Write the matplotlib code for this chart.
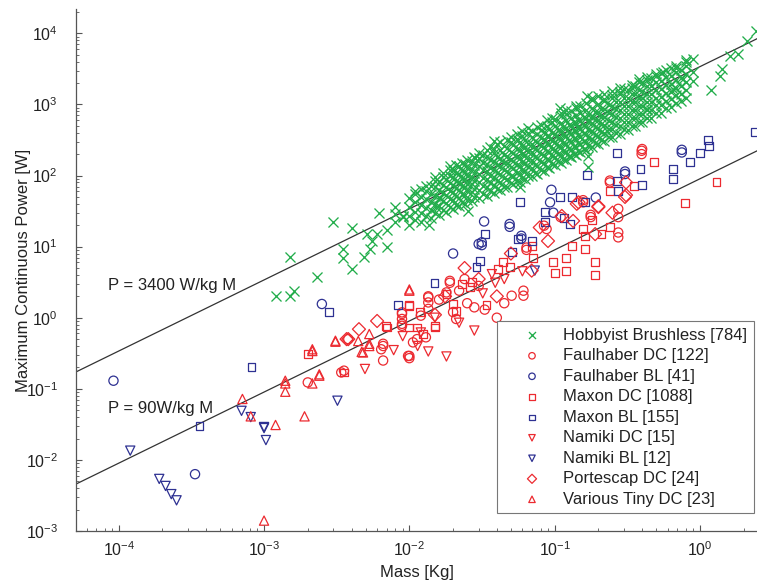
import numpy as np
import matplotlib
matplotlib.use("Agg")
from matplotlib import pyplot as plt

plt.rcParams['font.family'] = ['Liberation Sans', 'DejaVu Sans']
plt.rcParams['mathtext.default'] = 'regular'
plt.rcParams['axes.unicode_minus'] = False

GREEN = '#22ad4b'
RED = '#ec2a30'
BLUE = '#2e3192'

# Hobbyist brushless motors, scattered ones first, then the dense band (mass [kg], power [W])
hobby_mass = [
    1.2e-3, 1.5e-3, 1.6e-3, 1.5e-3, 2.3e-3, 3.0e-3, 4.0e-3, 3.5e-3, 3.5e-3, 4.0e-3,
    4.9e-3, 5.4e-3, 5.5e-3, 5.1e-3, 6.0e-3, 6.2e-3, 7.0e-3, 7.0e-3, 8.0e-3, 8.0e-3,
    8.0e-3, 9.1e-3, 9.0e-3, 0.0137, 0.0153, 0.0163, 0.0255, 0.0283, 0.038, 0.058,
    0.127, 0.17, 0.17, 0.166, 0.109, 0.23, 0.43, 0.56, 0.655, 0.77,
    0.9, 0.9, 0.9, 1.2, 1.37, 1.41, 1.6, 1.84, 2.1, 2.45,
    0.010, 0.010, 0.010, 0.010,
    0.011, 0.011, 0.011, 0.011,
    0.012, 0.012, 0.012, 0.012, 0.012,
    0.013, 0.013, 0.013, 0.013,
    0.014, 0.014, 0.014, 0.014, 0.014,
    0.015, 0.015, 0.015, 0.015, 0.015,
    0.016, 0.016, 0.016, 0.016, 0.016,
    0.017, 0.017, 0.017, 0.017, 0.017,
    0.018, 0.018, 0.018, 0.018, 0.018,
    0.019, 0.019, 0.019, 0.019, 0.019,
    0.020, 0.020, 0.020, 0.020, 0.020, 0.020,
    0.021, 0.021, 0.021, 0.021, 0.021,
    0.022, 0.022, 0.022, 0.022, 0.022, 0.022,
    0.023, 0.023, 0.023, 0.023, 0.023,
    0.024, 0.024, 0.024, 0.024, 0.024, 0.024,
    0.025, 0.025, 0.025, 0.025, 0.025,
    0.027, 0.027, 0.027, 0.027, 0.027, 0.027,
    0.028, 0.028, 0.028, 0.028, 0.028,
    0.030, 0.030, 0.030, 0.030, 0.030, 0.030,
    0.032, 0.032, 0.032, 0.032, 0.032,
    0.034, 0.034, 0.034, 0.034, 0.034, 0.034,
    0.036, 0.036, 0.036, 0.036, 0.036,
    0.038, 0.038, 0.038, 0.038, 0.038, 0.038,
    0.040, 0.040, 0.040, 0.040, 0.040,
    0.042, 0.042, 0.042, 0.042, 0.042, 0.042,
    0.045, 0.045, 0.045, 0.045, 0.045,
    0.047, 0.047, 0.047, 0.047, 0.047, 0.047,
    0.050, 0.050, 0.050, 0.050, 0.050,
    0.052, 0.052, 0.052, 0.052, 0.052, 0.052,
    0.055, 0.055, 0.055, 0.055, 0.055,
    0.058, 0.058, 0.058, 0.058, 0.058, 0.058,
    0.060, 0.060, 0.060, 0.060, 0.060,
    0.063, 0.063, 0.063, 0.063, 0.063, 0.063,
    0.066, 0.066, 0.066, 0.066, 0.066,
    0.070, 0.070, 0.070, 0.070, 0.070, 0.070,
    0.073, 0.073, 0.073, 0.073, 0.073,
    0.076, 0.076, 0.076, 0.076, 0.076, 0.076,
    0.080, 0.080, 0.080, 0.080, 0.080,
    0.084, 0.084, 0.084, 0.084, 0.084, 0.084,
    0.088, 0.088, 0.088, 0.088, 0.088,
    0.092, 0.092, 0.092, 0.092, 0.092, 0.092,
    0.096, 0.096, 0.096, 0.096, 0.096,
    0.100, 0.100, 0.100, 0.100, 0.100, 0.100,
    0.105, 0.105, 0.105, 0.105, 0.105,
    0.110, 0.110, 0.110, 0.110, 0.110, 0.110,
    0.115, 0.115, 0.115, 0.115, 0.115,
    0.120, 0.120, 0.120, 0.120, 0.120, 0.120,
    0.125, 0.125, 0.125, 0.125, 0.125,
    0.130, 0.130, 0.130, 0.130, 0.130, 0.130,
    0.135, 0.135, 0.135, 0.135, 0.135,
    0.140, 0.140, 0.140, 0.140, 0.140, 0.140,
    0.145, 0.145, 0.145, 0.145, 0.145,
    0.150, 0.150, 0.150, 0.150, 0.150, 0.150,
    0.160, 0.160, 0.160, 0.160, 0.160,
    0.165, 0.165, 0.165, 0.165, 0.165, 0.165,
    0.170, 0.170, 0.170, 0.170, 0.170,
    0.180, 0.180, 0.180, 0.180, 0.180, 0.180,
    0.190, 0.190, 0.190, 0.190, 0.190,
    0.200, 0.200, 0.200, 0.200, 0.200, 0.200,
    0.210, 0.210, 0.210, 0.210, 0.210,
    0.220, 0.220, 0.220, 0.220, 0.220, 0.220,
    0.235, 0.235, 0.235, 0.235, 0.235,
    0.250, 0.250, 0.250, 0.250, 0.250, 0.250,
    0.265, 0.265, 0.265, 0.265, 0.265,
    0.280, 0.280, 0.280, 0.280, 0.280, 0.280,
    0.300, 0.300, 0.300, 0.300, 0.300,
    0.320, 0.320, 0.320, 0.320, 0.320, 0.320,
    0.340, 0.340, 0.340, 0.340, 0.340,
    0.360, 0.360, 0.360, 0.360, 0.360, 0.360,
    0.380, 0.380, 0.380, 0.380, 0.380,
    0.400, 0.400, 0.400, 0.400, 0.400, 0.400,
    0.430, 0.430, 0.430, 0.430, 0.430,
    0.460, 0.460, 0.460, 0.460, 0.460, 0.460,
    0.500, 0.500, 0.500, 0.500, 0.500,
    0.540, 0.540, 0.540, 0.540, 0.540, 0.540,
    0.580, 0.580, 0.580, 0.580, 0.580,
    0.630, 0.630, 0.630, 0.630, 0.630, 0.630,
    0.680, 0.680, 0.680, 0.680, 0.680,
    0.740, 0.740, 0.740, 0.740, 0.740,
    0.800, 0.800, 0.800, 0.800, 0.800,
    # upper side of the band
    0.011, 0.013, 0.015, 0.017, 0.019, 0.019, 0.021, 0.023, 0.025, 0.028,
    0.030, 0.032, 0.034, 0.036, 0.038, 0.040, 0.042, 0.045, 0.047, 0.050,
    0.050, 0.055, 0.055, 0.060, 0.060, 0.066, 0.066, 0.070, 0.076, 0.080,
    0.080, 0.088, 0.088, 0.096, 0.096, 0.100, 0.110, 0.110, 0.120, 0.120,
    0.130, 0.140, 0.140, 0.150, 0.165, 0.180, 0.180, 0.200, 0.220, 0.220,
    0.250, 0.250, 0.280, 0.280, 0.300, 0.340, 0.340, 0.380, 0.380, 0.430,
    0.430, 0.500, 0.500, 0.580, 0.680, 0.680, 0.800, 0.800,
]
hobby_power = [
    2.0, 2.0, 2.4, 7.2, 3.7, 22, 18, 9.3, 6.9, 4.8,
    7.2, 9.3, 12, 15, 15, 30, 17, 10, 36, 29,
    22, 26, 27, 20, 36, 49, 32, 174, 310, 70,
    190, 190, 130, 1320, 900, 427, 860, 2820, 1650, 2280,
    4350, 2820, 2150, 1600, 2530, 3180, 4840, 5200, 7700, 10900,
    20, 27, 36, 48,
    24, 31, 42, 55,
    22, 30, 38, 50, 64,
    27, 35, 47, 60,
    25, 33, 42, 55, 72,
    30, 40, 52, 68, 85,
    28, 37, 48, 62, 80,
    33, 44, 56, 73, 95,
    31, 41, 53, 68, 88,
    36, 47, 61, 78, 100,
    34, 45, 58, 74, 96, 120,
    39, 51, 66, 85, 110,
    37, 49, 63, 81, 105, 135,
    42, 55, 71, 92, 118,
    40, 53, 68, 88, 113, 145,
    46, 60, 77, 100, 128,
    44, 58, 75, 96, 124, 160,
    50, 65, 84, 108, 140,
    48, 63, 81, 104, 135, 175,
    55, 72, 92, 118, 152,
    52, 68, 88, 114, 146, 190,
    60, 78, 100, 128, 165,
    57, 74, 96, 124, 160, 205,
    65, 84, 108, 140, 180,
    62, 80, 104, 135, 175, 225,
    70, 92, 118, 152, 196,
    68, 88, 114, 148, 190, 245,
    78, 100, 130, 168, 215,
    75, 97, 126, 162, 210, 270,
    85, 110, 142, 184, 236,
    82, 106, 138, 178, 230, 295,
    92, 120, 155, 200, 258,
    90, 116, 150, 194, 250, 320,
    100, 130, 168, 216, 280,
    98, 126, 164, 212, 274, 350,
    110, 142, 184, 238, 305,
    106, 138, 178, 230, 296, 380,
    120, 155, 200, 258, 332,
    115, 150, 194, 250, 322, 415,
    132, 170, 220, 284, 365,
    128, 165, 212, 275, 355, 455,
    145, 186, 240, 310, 400,
    140, 180, 232, 300, 388, 500,
    158, 204, 264, 340, 440,
    152, 196, 254, 328, 424, 545,
    172, 222, 286, 370, 478,
    166, 214, 276, 356, 460, 595,
    188, 242, 312, 404, 520,
    180, 232, 300, 388, 500, 645,
    204, 262, 338, 436, 565,
    196, 252, 326, 420, 542, 700,
    220, 284, 366, 472, 610,
    212, 274, 354, 456, 588, 760,
    240, 310, 400, 516, 666,
    232, 300, 386, 498, 642, 830,
    260, 336, 432, 558, 720,
    252, 325, 420, 540, 698, 900,
    285, 368, 475, 612, 790,
    280, 360, 465, 600, 775, 1000,
    315, 405, 525, 675, 870,
    310, 400, 515, 665, 860, 1100,
    350, 452, 582, 750, 970,
    345, 445, 575, 742, 958, 1230,
    395, 510, 658, 850, 1095,
    390, 505, 650, 840, 1085, 1400,
    445, 575, 742, 958, 1235,
    440, 570, 735, 950, 1225, 1580,
    505, 652, 842, 1085, 1400,
    500, 645, 835, 1075, 1390, 1790,
    570, 735, 950, 1225, 1580,
    565, 730, 940, 1215, 1570, 2020,
    645, 832, 1075, 1385, 1790,
    650, 840, 1085, 1400, 1810, 2330,
    750, 968, 1250, 1612, 2080,
    765, 988, 1275, 1645, 2125, 2740,
    880, 1135, 1465, 1890, 2440,
    910, 1175, 1515, 1955, 2525, 3260,
    1040, 1340, 1730, 2235, 2880,
    1100, 1420, 1835, 2370, 3060,
    1250, 1610, 2080, 2690, 3470,
    60, 72, 95, 110, 120, 135, 140, 150, 165, 180,
    210, 195, 230, 250, 240, 280, 300, 260, 320, 300,
    350, 330, 380, 360, 420, 400, 460, 420, 480, 440,
    520, 500, 600, 560, 650, 620, 680, 760, 740, 840,
    820, 880, 960, 950, 1050, 1150, 1250, 1300, 1400, 1200,
    1550, 1350, 1700, 1500, 1650, 1900, 1700, 2100, 2300, 2400,
    2200, 2700, 2500, 3100, 3500, 3300, 4200, 3900,
]

faul_dc_mass = [2.0e-3, 3.55e-3, 3.4e-3, 3.8e-3, 6.6e-3, 6.6e-3, 6.4e-3, 6.6e-3, 0.0089, 0.0089,
                0.0089, 0.0089, 0.0089, 0.010, 0.010, 0.0098, 0.0106, 0.0113, 0.013, 0.0135,
                0.0135, 0.0135, 0.0135, 0.012, 0.019, 0.019, 0.018, 0.021, 0.0506, 0.061,
                0.061, 0.064, 0.064, 0.0845, 0.088, 0.11, 0.157, 0.157, 0.177, 0.177,
                0.24, 0.24, 0.274, 0.274, 0.274, 0.274, 0.397, 0.397, 0.40, 0.016,
                0.022, 0.025, 0.028, 0.030, 0.033, 0.020, 0.024, 0.040, 0.045]
faul_dc_power = [0.123, 0.18, 0.17, 0.5, 0.40, 0.25, 0.36, 0.43, 0.82, 1.13,
                 0.96, 0.77, 1.19, 0.29, 0.27, 0.29, 0.45, 0.5, 0.53, 2.0,
                 1.93, 1.64, 1.33, 1.07, 3.1, 3.3, 2.27, 0.96, 2.04, 2.04,
                 2.4, 9.7, 9.0, 19.7, 17.7, 26, 45, 42, 28, 26,
                 85, 80, 34, 26, 15.8, 13.5, 223, 200, 236, 1.8,
                 2.4, 1.6, 1.4, 2.8, 1.3, 1.2, 3.5, 1.0, 1.6]

faul_bl_mass = [9.2e-5, 3.35e-4, 2.5e-3, 0.020, 0.030, 0.0327, 0.0315, 0.0315, 0.049, 0.049,
                0.059, 0.059, 0.095, 0.098, 0.093, 0.192, 0.305, 0.305, 0.75, 0.75]
faul_bl_power = [0.13, 0.0063, 1.56, 8.0, 10.9, 22.6, 11.5, 10.5, 20.8, 19,
                 14.2, 13, 63, 30, 42, 49, 114, 105, 211, 230]

maxon_dc_mass = [2.0e-3, 3.55e-3, 6.9e-3, 7.0e-3, 0.010, 0.010, 0.010, 0.0113, 0.0119, 0.0125,
                 0.015, 0.015, 0.018, 0.020, 0.021, 0.023, 0.026, 0.027, 0.034, 0.041,
                 0.044, 0.049, 0.0695, 0.071, 0.098, 0.100, 0.119, 0.120, 0.131, 0.157,
                 0.162, 0.162, 0.18, 0.19, 0.19, 0.21, 0.24, 0.24, 0.35, 0.48,
                 1.3, 0.79]
maxon_dc_power = [0.31, 0.17, 0.77, 0.73, 1.47, 1.52, 0.73, 0.73, 1.19, 0.59,
                  0.77, 0.73, 2.15, 1.56, 1.25, 3.0, 2.67, 3.14, 1.5, 4.8,
                  6.0, 5.1, 10.3, 6.9, 6.0, 4.2, 7.0, 4.6, 10.3, 17.7,
                  14, 9.2, 24, 6.0, 4.0, 15, 19, 61, 72, 153,
                  82, 41]

maxon_bl_mass = [8.2e-4, 3.6e-4, 2.8e-3, 8.4e-3, 0.0149, 0.029, 0.0306, 0.033, 0.051, 0.056,
                 0.058, 0.0695, 0.086, 0.086, 0.109, 0.116, 0.127, 0.131, 0.162, 0.166,
                 0.267, 0.267, 0.274, 0.39, 0.40, 0.655, 0.655, 0.85, 1.0, 1.14,
                 1.16, 2.39]
maxon_bl_power = [0.2, 0.030, 1.19, 1.52, 3.1, 5.1, 6.3, 15, 8.3, 12.8,
                  42, 12.1, 31, 22, 50, 25.6, 20.8, 50, 42, 103,
                  205, 83, 61, 124, 74, 124, 89, 153, 207, 316,
                  257, 413]

namiki_dc_mass = [4.95e-3, 7.8e-3, 0.0135, 0.018, 0.028, 0.0114, 0.037, 0.039, 0.015, 0.022,
                  0.032, 0.045, 0.012, 0.009, 0.060]
namiki_dc_power = [0.19, 0.35, 0.335, 0.285, 0.66, 0.40, 4.1, 3.1, 1.0, 0.85,
                   2.2, 3.5, 0.62, 0.55, 4.5]

namiki_bl_mass = [1.2e-4, 1.9e-4, 2.1e-4, 2.3e-4, 2.5e-4, 7.0e-4, 8.1e-4, 1.0e-3, 1.0e-3, 1.03e-3,
                  3.2e-3, 0.073]
namiki_bl_power = [0.0135, 0.0054, 0.0043, 0.0033, 0.0027, 0.049, 0.040, 0.029, 0.028, 0.019,
                   0.068, 4.6]

porte_dc_mass = [3.8e-3, 3.7e-3, 4.5e-3, 0.024, 0.079, 0.112, 0.134, 0.142, 0.19, 0.20,
                 0.305, 0.31, 0.0176, 0.146, 0.31, 0.0695, 0.006, 0.015, 0.030, 0.050,
                 0.040, 0.090, 0.25, 0.20]
porte_dc_power = [0.5, 0.5, 0.69, 5.0, 18.6, 27, 23, 40, 15, 36,
                  50, 80, 2.0, 42, 53, 4.6, 0.9, 1.1, 3.5, 8,
                  2.0, 12, 30, 37]

tiny_dc_mass = [7.1e-4, 8.1e-4, 1.0e-3, 1.2e-3, 1.4e-3, 1.4e-3, 1.9e-3, 2.15e-3, 2.15e-3, 2.4e-3,
                3.1e-3, 4.8e-3, 5.3e-3, 5.3e-3, 0.010, 4.45e-3, 4.7e-3, 5.3e-3, 2.15e-3, 1.4e-3,
                2.4e-3, 3.1e-3, 0.010]
tiny_dc_power = [0.072, 0.041, 0.0014, 0.031, 0.119, 0.091, 0.041, 0.34, 0.119, 0.153,
                 0.475, 0.325, 0.43, 0.59, 2.5, 0.47, 0.33, 0.40, 0.36, 0.13,
                 0.16, 0.46, 2.4]

x_ticks = [1e-4, 1e-3, 1e-2, 1e-1, 1e0]
y_ticks = [1e-3, 1e-2, 1e-1, 1e0, 1e1, 1e2, 1e3, 1e4]

fig = plt.figure(figsize=(7.57, 5.82), dpi=100)
ax = fig.add_axes([76/757, 51/582, 681/757, 522/582])

ms = 44
lw = 0.9
ax.scatter(hobby_mass, hobby_power, s=52, marker='x', color=GREEN, linewidths=0.95,
           label='Hobbyist Brushless [784]')
ax.scatter(faul_dc_mass, faul_dc_power, s=ms, marker='o', facecolors='none', edgecolors=RED,
           linewidths=lw, label='Faulhaber DC [122]')
ax.scatter(faul_bl_mass, faul_bl_power, s=ms, marker='o', facecolors='none', edgecolors=BLUE,
           linewidths=lw, label='Faulhaber BL [41]')
ax.scatter(maxon_dc_mass, maxon_dc_power, s=32, marker='s', facecolors='none', edgecolors=RED,
           linewidths=lw, label='Maxon DC [1088]')
ax.scatter(maxon_bl_mass, maxon_bl_power, s=32, marker='s', facecolors='none', edgecolors=BLUE,
           linewidths=lw, label='Maxon BL [155]')
ax.scatter(namiki_dc_mass, namiki_dc_power, s=ms, marker='v', facecolors='none', edgecolors=RED,
           linewidths=lw, label='Namiki DC [15]')
ax.scatter(namiki_bl_mass, namiki_bl_power, s=ms, marker='v', facecolors='none', edgecolors=BLUE,
           linewidths=lw, label='Namiki BL [12]')
ax.scatter(porte_dc_mass, porte_dc_power, s=ms, marker='D', facecolors='none', edgecolors=RED,
           linewidths=lw, label='Portescap DC [24]')
ax.scatter(tiny_dc_mass, tiny_dc_power, s=ms, marker='^', facecolors='none', edgecolors=RED,
           linewidths=lw, label='Various Tiny DC [23]')

ax.set_xscale('log')
ax.set_yscale('log')
xmin, xmax = 5.08e-5, 2.47
ax.set_xlim(xmin, xmax)
ax.set_ylim(1e-3, 2.2e4)

# specific power reference lines
m_line = np.array([xmin, xmax])
ax.plot(m_line, 3400*m_line, color='#333333', lw=0.9, zorder=0)
ax.plot(m_line, 90*m_line, color='#333333', lw=0.9, zorder=0)
ax.text(8.45e-5, 2.8, 'P = 3400 W/kg M', fontsize=12, color='#222222', va='center')
ax.text(8.45e-5, 0.0525, 'P = 90W/kg M', fontsize=12, color='#222222', va='center')

for side in ['top', 'right']:
    ax.spines[side].set_visible(False)
for side in ['left', 'bottom']:
    ax.spines[side].set_color('#555555')
    ax.spines[side].set_linewidth(0.9)
ax.set_xticks(x_ticks)
ax.set_yticks(y_ticks)
ax.tick_params(which='both', direction='in', colors='#555555', labelcolor='#222222', labelsize=11.5)
ax.tick_params(which='major', length=4)
ax.tick_params(which='minor', length=2.5)
ax.tick_params(axis='y', which='both', pad=13)
ax.tick_params(axis='x', which='both', pad=7)
ax.xaxis.set_minor_locator(matplotlib.ticker.LogLocator(base=10, subs=np.arange(2, 10), numticks=20))
ax.yaxis.set_minor_locator(matplotlib.ticker.LogLocator(base=10, subs=np.arange(2, 10), numticks=20))
ax.xaxis.set_minor_formatter(matplotlib.ticker.NullFormatter())
ax.yaxis.set_minor_formatter(matplotlib.ticker.NullFormatter())

ax.set_xlabel('Mass [Kg]', fontsize=12, color='#222222', labelpad=4)
ax.set_ylabel('Maximum Continuous Power [W]', fontsize=12, color='#222222', labelpad=-3.5)

leg = ax.legend(loc='upper left', bbox_to_anchor=(497/757, 1 - 321/582), bbox_transform=fig.transFigure,
                fontsize=12, frameon=True, fancybox=False, edgecolor='#777777', framealpha=1,
                markerscale=0.7, labelspacing=0.33, handletextpad=0.17, borderpad=0.4,
                borderaxespad=0, scatterpoints=1, handlelength=3.4)
leg.get_frame().set_linewidth(0.8)
for t in leg.get_texts():
    t.set_color('#222222')

fig.savefig('out.png', dpi=100)
